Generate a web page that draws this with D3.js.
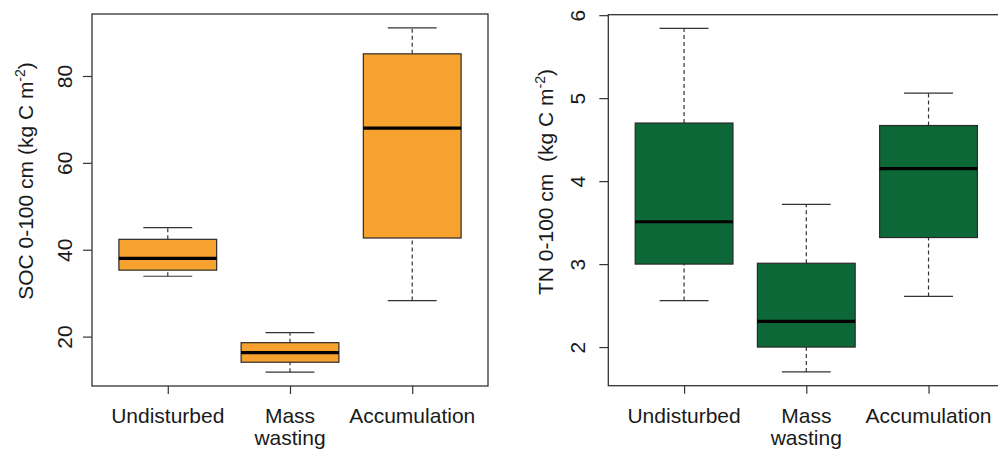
<!DOCTYPE html>
<html>
  <head>
    <meta charset="utf-8" />
    <script src="https://d3js.org/d3.v7.min.js"></script>
    <style>
      body { margin: 0; background: #fff; }
      text { font-family: "Liberation Sans", Arial, sans-serif; fill: #1a1a1a; }
    </style>
  </head>
  <body>
    <svg id="chart"></svg>
    <script>
      var width = 998;
      var height = 454;

      // categories (second one wraps on two lines)
      var categories = [["Undisturbed"], ["Mass", "wasting"], ["Accumulation"]];

      // SOC 0-100 cm: lower whisker, Q1, median, Q3, upper whisker
      var socLow = [33.9, 11.8, 28.3];
      var socQ1 = [35.3, 14.1, 42.7];
      var socMed = [38.0, 16.3, 68.0];
      var socQ3 = [42.4, 18.6, 85.1];
      var socHigh = [45.1, 20.9, 91.1];
      var socTicks = [20, 40, 60, 80];

      // TN 0-100 cm
      var tnLow = [2.56, 1.70, 2.61];
      var tnQ1 = [3.00, 2.00, 3.32];
      var tnMed = [3.51, 2.31, 4.15];
      var tnQ3 = [4.70, 3.01, 4.67];
      var tnHigh = [5.84, 3.72, 5.06];
      var tnTicks = [2, 3, 4, 5, 6];

      var svg = d3.select("#chart").attr("width", width).attr("height", height);

      function panel(opt) {
        var g = svg.append("g");

        // R style: data range padded by 4% on each side
        var lo = d3.min(opt.low), hi = d3.max(opt.high);
        var pad = (hi - lo) * 0.04;
        var y = d3.scaleLinear().domain([lo - pad, hi + pad]).range([opt.bottom, opt.top]);
        var x = d3.scaleLinear().domain([0.38, 3.62]).range([opt.left, opt.left + 396]);

        // frame
        g.append("rect")
          .attr("x", opt.left)
          .attr("y", opt.top)
          .attr("width", 396)
          .attr("height", opt.bottom - opt.top)
          .style("fill", "none")
          .style("stroke", "#333")
          .style("stroke-width", "1.3px");

        var bw = x(1.4) - x(1); // half of box width (boxwex 0.8)
        var cw = bw / 2; // staple half width

        categories.forEach(function (c, i) {
          var cx = x(i + 1);
          // whiskers
          [[opt.low[i], opt.q1[i]], [opt.q3[i], opt.high[i]]].forEach(function (w) {
            g.append("line")
              .attr("x1", cx).attr("x2", cx)
              .attr("y1", y(w[0])).attr("y2", y(w[1]))
              .style("stroke", "#333")
              .style("stroke-width", "1.2px")
              .style("stroke-dasharray", "4,3");
          });
          // staples
          [opt.low[i], opt.high[i]].forEach(function (v) {
            g.append("line")
              .attr("x1", cx - cw).attr("x2", cx + cw)
              .attr("y1", y(v)).attr("y2", y(v))
              .style("stroke", "#333")
              .style("stroke-width", "1.2px");
          });
          // box
          g.append("rect")
            .attr("x", cx - bw)
            .attr("y", y(opt.q3[i]))
            .attr("width", bw * 2)
            .attr("height", y(opt.q1[i]) - y(opt.q3[i]))
            .style("fill", opt.color)
            .style("stroke", "#2a2a2a")
            .style("stroke-width", "1.2px");
          // median
          g.append("line")
            .attr("x1", cx - bw).attr("x2", cx + bw)
            .attr("y1", y(opt.med[i])).attr("y2", y(opt.med[i]))
            .style("stroke", "#000")
            .style("stroke-width", "3.2px");
        });

        // y axis
        var ya = g.append("g")
          .attr("transform", "translate(" + opt.left + ",0)")
          .call(d3.axisLeft(y).tickValues(opt.ticks).tickSize(9).tickFormat(d3.format("d")));
        ya.select(".domain").remove();
        ya.selectAll("line").style("stroke", "#333").style("stroke-width", "1.2px");
        ya.selectAll("text")
          .attr("transform", "rotate(-90)")
          .attr("x", 0)
          .attr("y", -opt.tickLab)
          .attr("dy", 0)
          .attr("text-anchor", "middle")
          .style("font-size", "21px")
          .style("font-family", "'Liberation Sans', Arial, sans-serif")
          .style("fill", "#1a1a1a");

        // x axis
        var xa = g.append("g")
          .attr("transform", "translate(0," + opt.bottom + ")")
          .call(d3.axisBottom(x).tickValues([1, 2, 3]).tickSize(8).tickFormat(""));
        xa.select(".domain").remove();
        xa.selectAll("line").style("stroke", "#333").style("stroke-width", "1.2px");

        categories.forEach(function (c, i) {
          var t = g.append("text")
            .attr("x", x(i + 1))
            .attr("y", opt.bottom + 37)
            .attr("text-anchor", "middle")
            .style("font-size", "21px");
          c.forEach(function (s, j) {
            t.append("tspan")
              .attr("x", x(i + 1))
              .attr("dy", j == 0 ? 0 : 22)
              .text(s);
          });
        });

        // y title with superscript
        var tt = g.append("text")
          .attr("transform", "translate(" + opt.titleX + "," + opt.titleY + ") rotate(-90)")
          .attr("text-anchor", "middle")
          .style("font-size", "21px")
          .style("white-space", "pre");
        tt.append("tspan").text(opt.title);
        tt.append("tspan").attr("dy", -8).style("font-size", "14px").text("-2");
        tt.append("tspan").attr("dy", 8).text(")");
      }

      panel({
        left: 92, top: 14, bottom: 386,
        low: socLow, q1: socQ1, med: socMed, q3: socQ3, high: socHigh,
        ticks: socTicks, color: "#F7A22F", tickLab: 20,
        title: "SOC 0-100 cm (kg C m", titleX: 33, titleY: 181
      });

      panel({
        left: 608.3, top: 14.7, bottom: 385.7,
        low: tnLow, q1: tnQ1, med: tnMed, q3: tnQ3, high: tnHigh,
        ticks: tnTicks, color: "#0D6838", tickLab: 23,
        title: "TN 0-100 cm  (kg C m", titleX: 553, titleY: 182
      });
    </script>
  </body>
</html>
